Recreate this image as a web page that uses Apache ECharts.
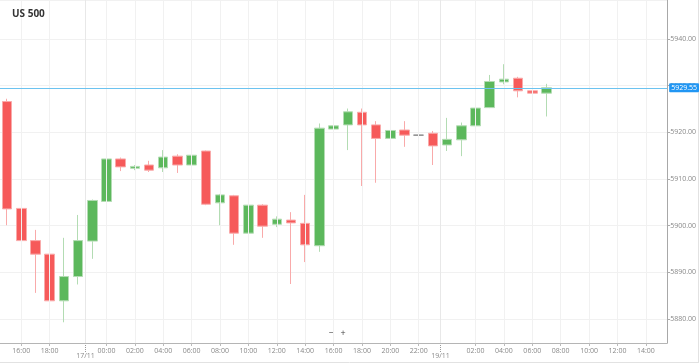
<!DOCTYPE html>
<html><head><meta charset="utf-8">
<script src="https://cdn.jsdelivr.net/npm/echarts@6/dist/echarts.min.js"></script>
<style>html,body{margin:0;padding:0;background:#fff}#c{width:699px;height:364px}</style>
</head><body><div id="c"></div>
<script>
const title = 'US 500';
const categories = [
 '15/11 15:00','15/11 16:00','15/11 17:00','15/11 18:00','15/11 19:00','15/11 20:00',
 '17/11 23:00','18/11 00:00','18/11 01:00','18/11 02:00','18/11 03:00','18/11 04:00','18/11 05:00',
 '18/11 06:00','18/11 07:00','18/11 08:00','18/11 09:00','18/11 10:00','18/11 11:00','18/11 12:00',
 '18/11 13:00','18/11 14:00','18/11 15:00','18/11 16:00','18/11 17:00','18/11 18:00','18/11 19:00',
 '18/11 20:00','18/11 21:00','18/11 22:00','18/11 23:00','19/11 00:00','19/11 01:00','19/11 02:00',
 '19/11 03:00','19/11 04:00','19/11 05:00','19/11 06:00','19/11 07:00','19/11 08:00','19/11 09:00',
 '19/11 10:00','19/11 11:00','19/11 12:00','19/11 13:00','19/11 14:00','19/11 15:00'
];
const tickLabels = [
 '','16:00','','18:00','','','','00:00','','02:00','','04:00','','06:00','','08:00','','10:00','',
 '12:00','','14:00','','16:00','','18:00','','20:00','','22:00','','','','02:00','','04:00','',
 '06:00','','08:00','','10:00','','12:00','','14:00',''
];
const dateLabels = ['17/11', '19/11'];
const dateBreakAfter = [5, 30];
const opens  = [5926.6,5903.7,5896.8,5893.9,5883.9,5889.1,5896.7,5905.2,5914.3,5912.3,5913.0,5912.4,5914.9,5913.0,5916.0,5904.9,5906.4,5898.4,5904.4,5900.3,5901.2,5900.5,5895.7,5920.7,5921.6,5924.3,5921.6,5918.7,5920.5,5919.4,5919.8,5917.3,5918.4,5921.4,5925.3,5930.8,5931.6,5928.9,5928.4];
const closes = [5903.6,5896.8,5893.9,5883.9,5889.1,5896.8,5905.4,5914.3,5912.6,5912.7,5911.9,5914.7,5913.0,5915.1,5904.6,5906.6,5898.4,5904.4,5899.9,5901.4,5900.6,5895.9,5920.9,5921.4,5924.4,5921.6,5918.7,5920.4,5919.4,5919.4,5917.1,5918.5,5921.4,5925.2,5930.9,5931.4,5928.9,5928.4,5929.55];
const lows   = [5900.1,5894.6,5885.6,5877.6,5879.3,5887.4,5892.9,5903.9,5911.7,5911.9,5911.5,5911.5,5911.3,5911.3,5904.4,5900.1,5895.9,5896.9,5897.4,5899.7,5887.5,5892.2,5894.4,5918.0,5916.2,5908.5,5909.2,5914.1,5916.9,5919.3,5913.0,5916.0,5914.9,5919.3,5925.2,5930.3,5927.5,5927.5,5923.4];
const highs  = [5927.2,5913.7,5899.1,5895.9,5897.4,5902.3,5905.6,5914.8,5914.6,5913.0,5913.9,5916.2,5915.3,5916.2,5916.1,5906.8,5906.6,5905.5,5904.6,5902.0,5902.9,5906.6,5921.9,5933.7,5925.1,5925.1,5922.4,5922.4,5922.4,5919.5,5920.3,5923.1,5922.1,5925.5,5932.3,5934.6,5931.9,5930.3,5930.4];
const lastPrice = 5929.55;

const candleData = categories.map((c, i) => i < opens.length ? [opens[i], closes[i], lows[i], highs[i]] : '-');
const labelIdx = tickLabels.map((t, i) => t ? i : -1).filter(i => i >= 0);

const chart = echarts.init(document.getElementById('c'), null, {renderer: 'canvas'});
const font = 'Open Sans, sans-serif';
chart.setOption({
  animation: false,
  backgroundColor: '#fff',
  title: {text: title, left: 7, top: 4, textStyle: {fontSize: 10, fontWeight: 'bold', color: '#333', fontFamily: font}},
  grid: {left: 0, right: 25, top: 0, bottom: 21},
  xAxis: {
    type: 'category', data: categories, boundaryGap: true,
    axisLine: {lineStyle: {color: '#b5b5b5'}},
    axisTick: {show: true, alignWithLabel: true, length: 3, lineStyle: {color: '#bbb'}, interval: (i) => !!tickLabels[i]},
    axisLabel: {interval: (i) => !!tickLabels[i], formatter: (v, i) => tickLabels[i], fontSize: 7, color: '#888', margin: 4, fontFamily: font},
    splitLine: {show: false}
  },
  yAxis: {
    type: 'value', position: 'right', min: 5874.86, max: 5948.36, scale: true,
    axisLine: {show: true, lineStyle: {color: '#a8a8a8'}},
    axisTick: {show: true, length: 3, lineStyle: {color: '#aaa'}},
    axisLabel: {fontSize: 7, color: '#888', margin: 3, fontFamily: font, showMinLabel: false, showMaxLabel: false,
      formatter: v => v.toFixed(2)},
    splitLine: {lineStyle: {color: '#f1f1f1'}}
  },
  series: [
    {
      type: 'line', data: [], z: 1, silent: true,
      markLine: {silent: true, symbol: 'none', label: {show: false},
        lineStyle: {color: '#f1f1f1', type: 'solid', width: 1},
        data: labelIdx.map(i => ({xAxis: categories[i]}))}
    },
    {
      type: 'candlestick', data: candleData, barWidth: 10, z: 3,
      itemStyle: {
        color: '#5cb85c', color0: '#f65a5a',
        borderColor: '#b3dcb3', borderColor0: '#f9aaaa', borderColorDoji: '#888', borderWidth: 1
      },
      markLine: {silent: true, symbol: 'none',
        lineStyle: {color: '#6cc3f0', type: 'solid', width: 1},
        label: {show: true, position: 'end', distance: 2, formatter: lastPrice.toFixed(2),
          backgroundColor: '#2196f3', color: '#fff', fontSize: 7, padding: [1, 2, 1, 2], borderRadius: 1, fontFamily: font},
        data: [{yAxis: lastPrice}]}
    }
  ]
});

const g = [];
const yAxisBottom = chart.convertToPixel({yAxisIndex: 0}, 5874.86);
dateBreakAfter.forEach((idx, k) => {
  const a = chart.convertToPixel({xAxisIndex: 0}, categories[idx]);
  const b = chart.convertToPixel({xAxisIndex: 0}, categories[idx + 1]);
  const x = Math.round((a + b) / 2) + 0.5;
  g.push({type: 'line', silent: true, z: 0, shape: {x1: x, y1: 0, x2: x, y2: yAxisBottom}, style: {stroke: '#e8e8e8', lineWidth: 1}});
  g.push({type: 'line', silent: true, shape: {x1: x, y1: yAxisBottom, x2: x, y2: yAxisBottom + 9}, style: {stroke: '#999', lineWidth: 1, lineDash: [1, 1]}});
  g.push({type: 'text', silent: true, x: x, y: yAxisBottom + 9, style: {text: dateLabels[k], fill: '#888', fontSize: 7, fontFamily: font, align: 'center', verticalAlign: 'top'}});
});
// zoom buttons
g.push({type: 'text', x: 331, y: 333, style: {text: '−', fill: '#444', fontSize: 9, fontFamily: font, align: 'center', verticalAlign: 'middle'}});
g.push({type: 'text', x: 343, y: 333, style: {text: '+', fill: '#444', fontSize: 9, fontFamily: font, align: 'center', verticalAlign: 'middle'}});
// outer frame lines
g.push({type: 'line', silent: true, shape: {x1: 698.5, y1: 0, x2: 698.5, y2: 362}, style: {stroke: '#e2e2e2', lineWidth: 1}});
g.push({type: 'line', silent: true, shape: {x1: 0, y1: 362.5, x2: 699, y2: 362.5}, style: {stroke: '#e2e2e2', lineWidth: 1}});
chart.setOption({graphic: g});
</script>
</body></html>
